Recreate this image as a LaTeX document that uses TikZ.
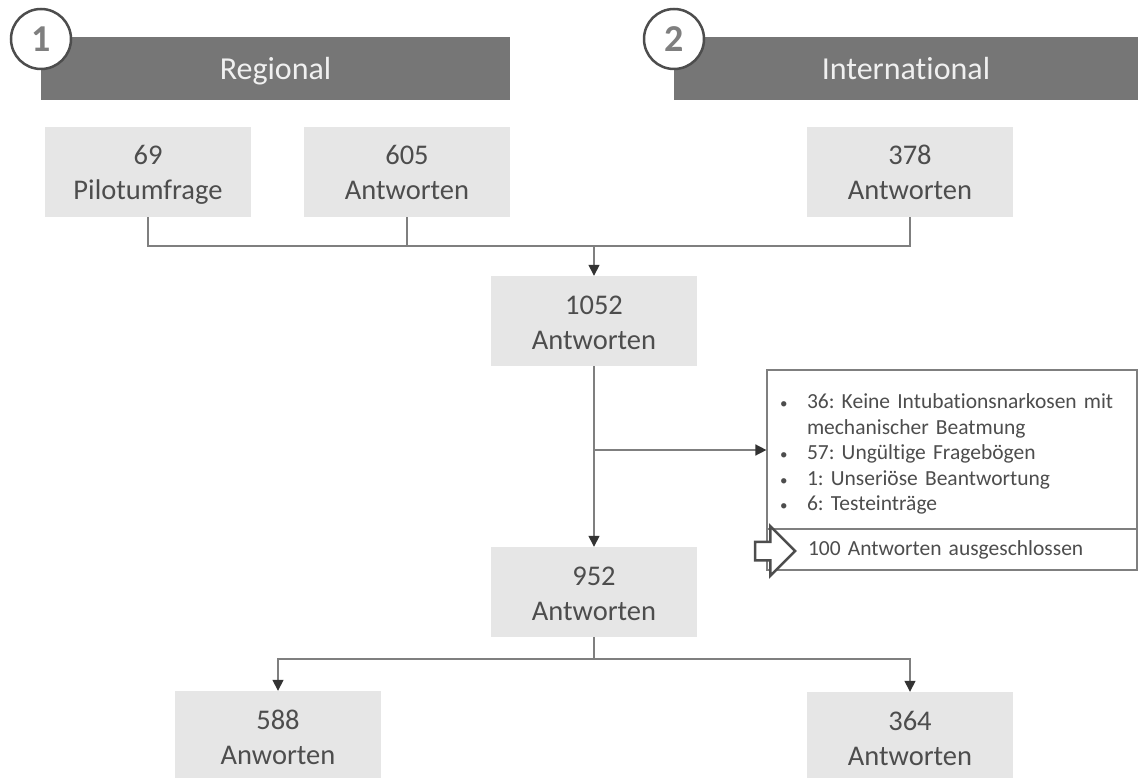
\documentclass[tikz,border=0pt]{standalone}
\usepackage{fontspec}
\setmainfont{Carlito}[Ligatures=NoCommon]
\usetikzlibrary{positioning,arrows.meta,shapes.arrows}
\definecolor{kopfGrau}{HTML}{767676}
\definecolor{kastenGrau}{HTML}{E6E6E6}
\definecolor{textGrau}{HTML}{4D4D4D}
\definecolor{linienGrau}{HTML}{7F7F7F}
\definecolor{pfeilGrau}{HTML}{333333}
\tikzset{
  kopf/.style={rectangle, fill=kopfGrau, minimum height=63pt, inner sep=0pt,
    text height=22pt, text depth=0pt,
    text=white!94!black, font=\fontsize{32}{38}\selectfont},
  nummer/.style={circle, draw=textGrau, line width=2.5pt, fill=white,
    minimum size=60pt, inner sep=0pt, text=linienGrau,
    font=\fontsize{38}{40}\selectfont\bfseries},
  kasten/.style={rectangle, fill=kastenGrau, minimum width=206pt,
    minimum height=90pt, inner sep=0pt, text width=206pt, align=center,
    text=textGrau, font=\fontsize{28.5}{35}\selectfont,
    execute at begin node={\rule{0pt}{31pt}},
    execute at end node={\rule[-10pt]{0pt}{1pt}}},
  liste/.style={rectangle, draw=linienGrau, line width=1.2pt, fill=white,
    text width=370pt, minimum height=159pt, inner sep=0pt, align=left,
    text=textGrau, font=\fontsize{21.5}{25.5}\selectfont\frenchspacing},
  summe/.style={liste, minimum height=41pt},
  blockpfeil/.style={single arrow, draw=textGrau, line width=2.5pt, fill=white,
    minimum height=40pt, minimum width=47pt, inner sep=0pt, inner ysep=8pt,
    single arrow head extend=15.5pt},
  linie/.style={-, line width=1.5pt, linienGrau},
  pfeil/.style={linie, -{Triangle[length=11pt,width=11pt,color=pfeilGrau]}},
}
\newcommand{\punkt}{\makebox[40pt][l]{\hspace{13pt}{\fontsize{15}{15}\selectfont\textbullet}}}

\begin{document}
\begin{tikzpicture}[x=1pt,y=-1pt]
    \path[use as bounding box] (0,0) rectangle (1138,778);
    \clip (0,0) rectangle (1138,778);

    \node[kopf, minimum width=469pt] (regional) at (275.5,68.5) {Regional};
    \node[kopf, minimum width=464pt] (internat) at (906,68.5)   {International};
    \node[nummer] (eins) at (41,39)  {1};
    \node[nummer] (zwei) at (674,39) {2};

    \node[kasten] (pilot)  at (148,172) {69\\Pilotumfrage};
    \node[kasten] (reg)    at (407,172) {605\\Antworten};
    \node[kasten] (int)    at (910,172) {378\\Antworten};
    \node[kasten] (gesamt) at (594,321) {1052\\Antworten};
    \node[kasten] (bereinigt) at (594,592) {952\\Antworten};
    \node[kasten] (links)  at (278,736) {588\\Anworten};
    \node[kasten] (rechts) at (910,737) {364\\Antworten};

    \node[liste] (ausschluss) at (952,449.5)
          {\rule{0pt}{24pt}\punkt 36: Keine Intubationsnarkosen mit\\
           \hspace*{40pt}mechanischer Beatmung\\
           \punkt 57: Ungültige Fragebögen\\
           \punkt 1: Unseriöse Beantwortung\\
           \punkt 6: Testeinträge};
    \node[summe] (ausgeschl) at (952,549.5) {\hspace*{41pt}100 Antworten ausgeschlossen};
    \node[blockpfeil] (hinweis) at (770.5,551) {};

    \coordinate (sammel)  at (594,246);
    \coordinate (abzweig) at (594,450);
    \coordinate (teilung) at (594,659);

    \draw[linie] (pilot.south) |- (sammel);
    \draw[linie] (int.south) |- (sammel);
    \draw[linie] (reg.south) -- (reg.south |- sammel);
    \draw[pfeil] (sammel) -- (gesamt.north);
    \draw[pfeil] (gesamt.south) -- (bereinigt.north);
    \draw[pfeil] (abzweig) -- (abzweig -| ausschluss.west);
    \draw[linie] (bereinigt.south) -- (teilung);
    \draw[pfeil] (teilung) -| (links.north);
    \draw[pfeil] (teilung) -| (rechts.north);
  \end{tikzpicture}
\end{document}
